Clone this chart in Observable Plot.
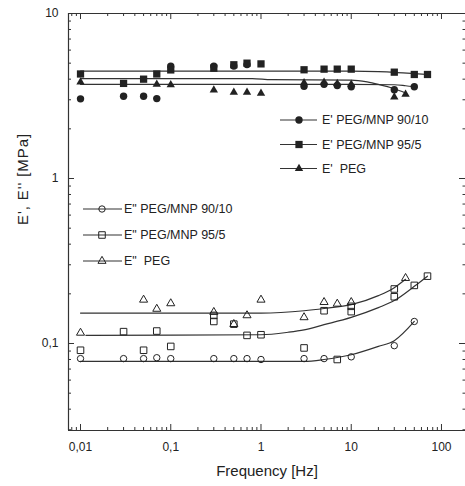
<!DOCTYPE html>
<html><head><meta charset="utf-8">
<script src="https://cdn.jsdelivr.net/npm/d3@7"></script>
<script src="https://cdn.jsdelivr.net/npm/@observablehq/plot@0.6"></script>
<style>
html,body{margin:0;padding:0;background:#fff;}
</style></head><body><div id="chart"></div>
<script>
// ---------- data ----------
// E' (storage modulus), filled markers
const freqE1_9010 = [0.01, 0.03, 0.05, 0.07, 0.1, 0.3, 0.5, 0.7, 3, 5, 7, 10, 30, 50];
const valE1_9010  = [3.04, 3.15, 3.15, 3.05, 4.8, 4.8, 4.8, 4.9, 3.62, 3.72, 3.66, 3.6, 3.45, 3.6];
const freqE1_955  = [0.01, 0.03, 0.05, 0.07, 0.1, 0.3, 0.5, 0.7, 1, 3, 5, 7, 10, 30, 50, 70];
const valE1_955   = [4.3, 3.77, 4.0, 4.3, 4.55, 4.66, 4.89, 5.0, 4.95, 4.56, 4.6, 4.6, 4.6, 4.41, 4.27, 4.27];
const freqE1_PEG  = [0.01, 0.07, 0.1, 0.3, 0.5, 0.7, 1, 3, 5, 7, 10, 30, 40];
const valE1_PEG   = [3.84, 3.72, 3.7, 3.44, 3.33, 3.33, 3.28, 3.8, 3.83, 3.76, 3.72, 3.12, 3.24];
// E'' (loss modulus), open markers
const freqE2_9010 = [0.01, 0.03, 0.05, 0.07, 0.1, 0.3, 0.5, 0.7, 1, 3, 5, 10, 30, 50];
const valE2_9010  = [0.081, 0.081, 0.081, 0.082, 0.081, 0.081, 0.081, 0.081, 0.080, 0.081, 0.081, 0.083, 0.097, 0.136];
const freqE2_955  = [0.01, 0.03, 0.05, 0.07, 0.1, 0.3, 0.3, 0.5, 0.7, 1, 3, 5, 7, 10, 10, 30, 30, 50, 70];
const valE2_955   = [0.091, 0.118, 0.091, 0.119, 0.096, 0.148, 0.136, 0.131, 0.112, 0.113, 0.094, 0.158, 0.080, 0.168, 0.156, 0.214, 0.192, 0.225, 0.256];
const freqE2_PEG  = [0.01, 0.05, 0.07, 0.1, 0.3, 0.5, 0.7, 1, 3, 5, 7, 10, 40];
const valE2_PEG   = [0.116, 0.184, 0.162, 0.175, 0.155, 0.131, 0.148, 0.184, 0.144, 0.178, 0.174, 0.178, 0.249];

// fitted curves
const fitFreqE1_955  = [0.01, 1, 10, 20, 30, 50, 70];
const fitValE1_955   = [4.47, 4.47, 4.47, 4.44, 4.40, 4.32, 4.27];
const fitFreqE1_PEG  = [0.01, 0.8, 1.3, 10, 15, 20, 30, 40];
const fitValE1_PEG   = [4.03, 4.03, 3.97, 3.95, 3.85, 3.72, 3.5, 3.3];
const fitFreqE1_9010 = [0.01, 10, 30, 40, 50];
const fitValE1_9010  = [3.72, 3.72, 3.7, 3.65, 3.6];
const fitFreqE2_PEG  = [0.01, 1, 3, 5, 10, 20, 30, 40];
const fitValE2_PEG   = [0.153, 0.153, 0.158, 0.163, 0.172, 0.195, 0.218, 0.245];
const fitFreqE2_955  = [0.0115, 1, 2, 3, 5, 10, 20, 30, 50, 70];
const fitValE2_955   = [0.112, 0.113, 0.117, 0.121, 0.13, 0.144, 0.165, 0.182, 0.222, 0.256];
const fitFreqE2_9010 = [0.01, 3, 5, 10, 20, 30, 50];
const fitValE2_9010  = [0.078, 0.078, 0.080, 0.0855, 0.096, 0.104, 0.136];

// tick labels
const xTickValues = [0.01, 0.1, 1, 10, 100];
const yTickValues = [0.1, 1, 10];
const xLabel = "Frequency [Hz]";
const yLabel = "E', E'' [MPa]";
const legendE1 = ["E' PEG/MNP 90/10", "E' PEG/MNP 95/5", "E'  PEG"];
const legendE2 = ["E\" PEG/MNP 90/10", "E\" PEG/MNP 95/5", "E\"  PEG"];

// ---------- build ----------
const zip = (fs, vs) => fs.map((f, i) => ({f, v: vs[i]}));
const INK = "#222", LINE = "#333";
const W = 465, H = 486, mL = 68, mR = 0, mT = 13, mB = 56;
const innerW = W - mL - mR, innerH = H - mT - mB;
const xDomain = [0.00736, 184.6], yDomain = [0.0297, 10];

const minor = (lo, hi) => {
  const out = [];
  for (let e = -4; e <= 3; e++) for (let m = 2; m <= 9; m++) {
    const v = m * Math.pow(10, e);
    if (v > lo && v < hi) out.push(v);
  }
  return out;
};
const xMinor = minor(xDomain[0], xDomain[1]);
const yMinor = minor(yDomain[0], yDomain[1]);
const fmt = d => String(d).replace(".", ",");

const symMap = {circle: d3.symbolCircle, square: d3.symbolSquare, triangle: d3.symbolTriangle};
function legend(labels, specs, lx1, lx2, mx, tx, ys) {
  return () => {
    const g = d3.create("svg:g");
    labels.forEach((lab, i) => {
      const y = ys[i], s = specs[i];
      g.append("line").attr("x1", lx1).attr("x2", lx2).attr("y1", y).attr("y2", y)
        .attr("stroke", LINE).attr("stroke-width", 1.2);
      g.append("path").attr("transform", `translate(${mx},${y})`)
        .attr("d", d3.symbol(symMap[s.symbol], Math.PI * s.r * s.r)())
        .attr("fill", s.filled ? INK : "none").attr("stroke", s.filled ? "none" : INK).attr("stroke-width", 1);
      g.append("text").attr("x", tx).attr("y", y).attr("dy", "0.35em")
        .attr("text-anchor", "start").style("text-anchor", "start")
        .attr("font-size", 12.5).attr("fill", INK).text(lab);
    });
    return g.node();
  };
}

const filledSpecs = [{symbol: "circle", r: 3.7, filled: true}, {symbol: "square", r: 4.1, filled: true}, {symbol: "triangle", r: 3.1, filled: true}];
const openSpecs = [{symbol: "circle", r: 3.2, filled: false}, {symbol: "square", r: 3.7, filled: false}, {symbol: "triangle", r: 3.0, filled: false}];

const fitLine = (fs, vs) => Plot.line(zip(fs, vs), {x: "f", y: "v", curve: "monotone-x", stroke: LINE, strokeWidth: 1.2});
const dots = (fs, vs, spec) => Plot.dot(zip(fs, vs), {x: "f", y: "v", symbol: spec.symbol, r: spec.r,
  fill: spec.filled ? INK : "none", stroke: spec.filled ? "none" : INK, strokeWidth: 1});

const chart = Plot.plot({
  width: W, height: H, marginLeft: mL, marginRight: mR, marginTop: mT, marginBottom: mB,
  style: {fontFamily: "'Liberation Sans', Arial, sans-serif", fontSize: "12px", color: INK, background: "#fff"},
  x: {type: "log", domain: xDomain, axis: null},
  y: {type: "log", domain: yDomain, axis: null},
  marks: [
    // frame (left, top, bottom)
    Plot.ruleX([xDomain[0]], {stroke: LINE, strokeWidth: 1.2}),
    Plot.ruleY([yDomain[0]], {stroke: LINE, strokeWidth: 1.2}),
    Plot.ruleY([yDomain[1]], {stroke: LINE, strokeWidth: 1.2}),
    // ticks inward: bottom / top
    Plot.tickX(xTickValues, {x: d => d, insetTop: innerH - 6, stroke: LINE}),
    Plot.tickX(xMinor, {x: d => d, insetTop: innerH - 3, stroke: LINE}),
    Plot.tickX(xTickValues, {x: d => d, insetBottom: innerH - 6, stroke: LINE}),
    Plot.tickX(xMinor, {x: d => d, insetBottom: innerH - 3, stroke: LINE}),
    // ticks inward: left / right
    Plot.tickY(yTickValues, {y: d => d, insetRight: innerW - 6, stroke: LINE}),
    Plot.tickY(yMinor, {y: d => d, insetRight: innerW - 3, stroke: LINE}),
    Plot.tickY(yTickValues, {y: d => d, insetLeft: innerW - 6, stroke: LINE}),
    Plot.tickY(yMinor, {y: d => d, insetLeft: innerW - 2.5, stroke: LINE}),
    // tick labels
    Plot.axisX({ticks: xTickValues, tickSize: 0, tickPadding: 12, tickFormat: fmt, label: null, fontSize: 12, fill: INK}),
    Plot.axisY({ticks: yTickValues, tickSize: 0, tickPadding: 10, tickFormat: fmt, label: null, fontSize: 12, fill: INK}),
    // axis titles
    Plot.text([xLabel], {text: d => d, frameAnchor: "bottom", dy: 45, fontSize: 15, fill: INK}),
    Plot.text([yLabel], {text: d => d, frameAnchor: "left", rotate: -90, dx: -45, dy: 3, fontSize: 15, fill: INK}),
    // fits
    fitLine(fitFreqE1_955, fitValE1_955),
    fitLine(fitFreqE1_PEG, fitValE1_PEG),
    fitLine(fitFreqE1_9010, fitValE1_9010),
    fitLine(fitFreqE2_PEG, fitValE2_PEG),
    fitLine(fitFreqE2_955, fitValE2_955),
    fitLine(fitFreqE2_9010, fitValE2_9010),
    // points
    dots(freqE1_9010, valE1_9010, filledSpecs[0]),
    dots(freqE1_955, valE1_955, filledSpecs[1]),
    dots(freqE1_PEG, valE1_PEG, filledSpecs[2]),
    dots(freqE2_9010, valE2_9010, openSpecs[0]),
    dots(freqE2_955, valE2_955, openSpecs[1]),
    dots(freqE2_PEG, valE2_PEG, openSpecs[2]),
    // legends
    legend(legendE1, filledSpecs, 280, 317, 299, 322, [120, 144.5, 168.5]),
    legend(legendE2, openSpecs, 83, 122, 102, 124, [209, 235, 261])
  ]
});
chart.querySelectorAll("text").forEach(t => { if (t.textContent === yLabel) t.setAttribute("letter-spacing", "0.9"); });
document.getElementById("chart").appendChild(chart);
</script></body></html>
